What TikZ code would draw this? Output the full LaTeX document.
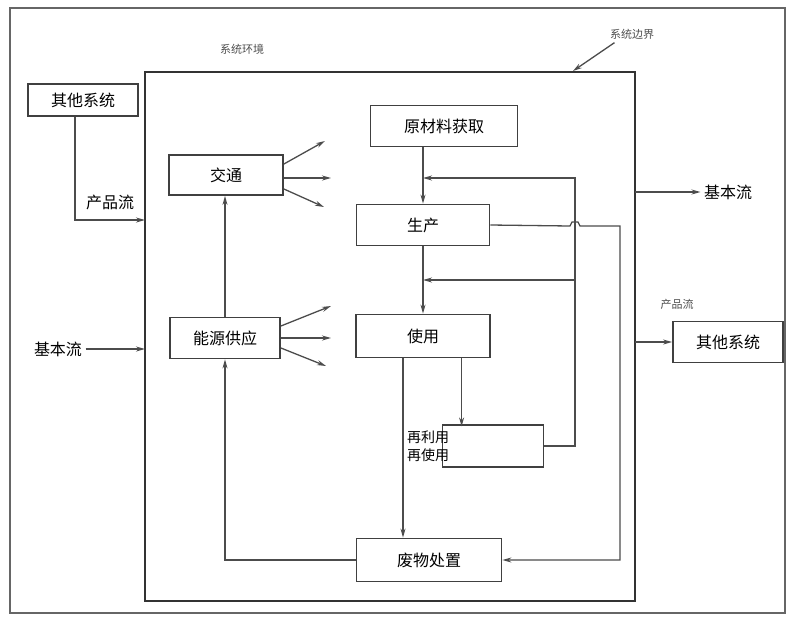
\documentclass[tikz,border=0pt]{standalone}
\usepackage{fontspec}
\newfontfamily\cjk{Noto Sans CJK SC}
\usetikzlibrary{arrows.meta}
\usetikzlibrary{positioning}

\tikzset{
  box/.style={draw=black!75, line width=1.8pt, inner sep=0pt, font=\cjk\fontsize{16}{19}\selectfont},
  flow/.style={draw=black!70, line width=1.3pt},
  tag/.style={font=\cjk\fontsize{16}{19}\selectfont},
  smalltag/.style={font=\cjk\fontsize{11}{13}\selectfont, text=black!70}
}

\begin{document}
\begin{tikzpicture}[x=1pt, y=-1pt, >={Stealth[length=9pt,width=5pt]}]
        \useasboundingbox (0,0) rectangle (787,619);
        % frames
        \draw[black!60, line width=1.2pt] (10,8) rectangle (785,613);
        \draw[black!80, line width=1.8pt] (145,72) rectangle (635,601);
        \node[smalltag] (envtext) at (242,49) {系统环境};
        \node[smalltag] (bndtext) at (632,34) {系统边界};
        \coordinate (bnd) at (573,71);

        % boxes
        \node[box, minimum width=110pt, minimum height=32pt] (othL) at (83,100) {其他系统};
        \node[box, minimum width=147pt, minimum height=41pt] (raw) at (444,126) {原材料获取};
        \node[box, minimum width=114pt, minimum height=40pt] (traffic) at (226,175) {交通};
        \node[box, minimum width=133pt, minimum height=41pt] (prod) at (423,225) {生产};
        \node[box, minimum width=110pt, minimum height=41pt] (energy) at (225,338) {能源供应};
        \node[box, minimum width=134pt, minimum height=43pt] (use) at (423,336) {使用};
        \node[box, minimum width=145pt, minimum height=43pt] (waste) at (429,560) {废物处置};
        \node[box, minimum width=110pt, minimum height=41pt] (othR) at (728,342) {其他系统};
        \node[box, minimum width=101pt, minimum height=42pt] (reuse) at (493,446) {};
        \node[tag, align=left, inner sep=0pt, font=\cjk\fontsize{14}{18}\selectfont] (reusetext) at (428,446) {再利用\\再使用};

        % outside flows
        \node[tag] (basicL) at (58,349) {基本流};
        \node[tag] (basicR) at (728,192) {基本流};
        \node[tag] (prodflowL) at (110,202) {产品流};
        \node[smalltag] (prodflowR) at (677,304) {产品流};
        \coordinate (inL) at (145,220);
        \coordinate (inB) at (145,349);
        \coordinate (outB) at (635,192);
        \coordinate (outP) at (635,342);

        \draw[flow, ->] (bndtext.south west) ++(8,0) -- (bnd);
        \draw[flow, ->] (othL.south -| 75,0) |- (inL);
        \draw[flow, ->] (basicL.east) -- (inB);
        \draw[flow, ->] (outB) -- (basicR.west);
        \draw[flow, ->] (outP) -- (othR.west);

        % inner flows
        \draw[flow, ->] (raw.south -| prod.north) -- (prod.north);
        \draw[flow, ->] (prod.south) -- (use.north);
        \draw[flow, ->] (use.south -| 403,0) -- (waste.north -| 403,0);
        \draw[flow, ->] (use.south -| reuse.north west) ++(20,0) -- ++(0,68);
        \coordinate (fbtop) at (575,178);
        \coordinate (fbmid) at (575,280);
        \draw[flow, ->] (reuse.east) -| (fbtop) -- (fbtop -| prod.north);
        \draw[flow, ->] (fbmid) -- (fbmid -| use.north);
        \coordinate (rtcorner) at (620,226);
        \draw[flow, ->] (prod.east) -- (570,226) -- (572,222) -- (578,222) -- (580,226)
          -- (rtcorner) |- (waste.east);
        \draw[flow, ->] (waste.west) -| (energy.south);
        \draw[flow, ->] (energy.north) -- (traffic.south -| energy.north);

        % emissions
        \foreach \dy/\ex/\ey in {11/325/141, -3/331/178, -14/324/207}
          \draw[flow, ->] ([yshift=\dy pt]traffic.east) -- (\ex,\ey);
        \foreach \dy/\ex/\ey in {12/331/306, 0/331/338, -10/326/366}
          \draw[flow, ->] ([yshift=\dy pt]energy.east) -- (\ex,\ey);
\end{tikzpicture}
\end{document}
